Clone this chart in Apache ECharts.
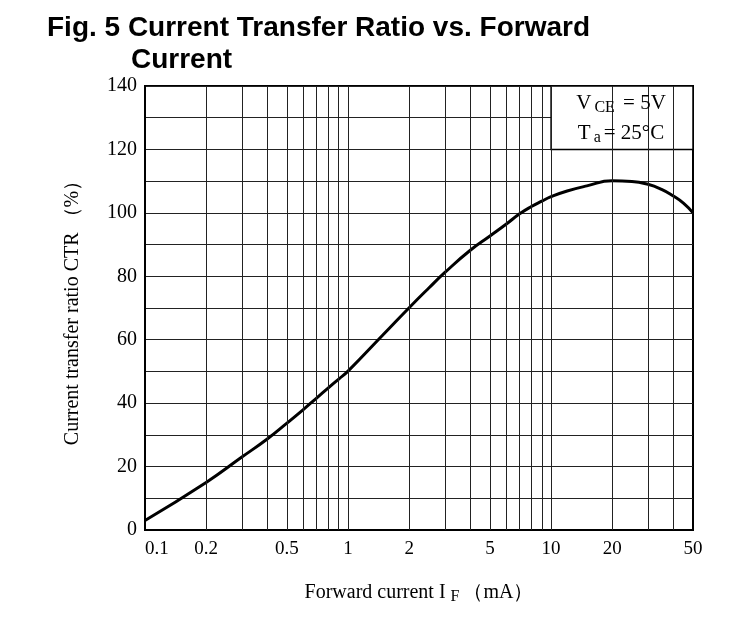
<!DOCTYPE html>
<html>
<head>
<meta charset="utf-8">
<script src="https://cdn.jsdelivr.net/npm/echarts@6/dist/echarts.min.js"></script>
<style>html,body{margin:0;padding:0;background:#fff;}#c{width:755px;height:617px;}</style>
</head>
<body>
<div id="c"></div>
<script>
const currentIF = [0.1,0.2,0.3,0.4,0.5,0.6,0.7,0.8,0.9,1,1.5,2,2.5,3,4,5,6,7,8,9,10,12,15,20,25,30,35,40,45,50];
const ctrValues = [3.0,15.0,23.0,28.7,33.7,37.9,41.6,44.8,47.6,50.1,61.8,70.1,76.3,81.2,88.2,92.7,96.4,99.7,102,103.7,105.1,106.9,108.5,110.1,109.9,109,107.4,105.3,103,100];
const xTickLabels = [0.1,0.2,0.5,1,2,5,10,20,50];
const xGridValues = [0.2,0.3,0.4,0.5,0.6,0.7,0.8,0.9,1,2,3,4,5,6,7,8,9,10,20,30,40];
const yLabelValues = [0,20,40,60,80,100,120,140];

const serif = '"Liberation Serif","Times New Roman",serif';
const sans = '"Liberation Sans",Arial,sans-serif';
const chart = echarts.init(document.getElementById('c'), null, {renderer:'canvas'});
chart.setOption({
  animation:false,
  backgroundColor:'#fff',
  title:[
    {text:'Fig. 5 Current Transfer Ratio vs. Forward', left:47, top:14, padding:0,
     textStyle:{fontFamily:sans, fontWeight:'bold', fontSize:28, color:'#000'}},
    {text:'Current', left:131, top:46, padding:0,
     textStyle:{fontFamily:sans, fontWeight:'bold', fontSize:28, color:'#000'}}
  ],
  grid:{left:145, right:62, top:86, bottom:87, show:true, borderColor:'#000', borderWidth:2, backgroundColor:'transparent'},
  xAxis:{
    type:'log', logBase:10, min:0.1, max:50,
    name:'Forward current I{sub|F}（mA）', nameLocation:'middle', nameGap:50,
    nameTextStyle:{fontFamily:serif, fontSize:20, color:'#000',
      rich:{sub:{fontFamily:serif, fontSize:16, color:'#000', padding:[9,4,0,5]}}},
    axisLine:{show:true, lineStyle:{color:'#000', width:2}},
    axisTick:{show:false},
    splitLine:{show:false},
    axisLabel:{customValues:xTickLabels, fontFamily:serif, fontSize:19, color:'#000', margin:10,
      alignMinLabel:'left',
      formatter:function(v){return String(+v.toPrecision(3));}}
  },
  yAxis:{
    type:'value', min:0, max:140, interval:10,
    name:'Current transfer ratio CTR （%）', nameLocation:'middle', nameGap:62,
    nameTextStyle:{fontFamily:serif, fontSize:20, color:'#000'},
    axisLine:{show:true, lineStyle:{color:'#000', width:2}},
    axisTick:{show:false},
    splitLine:{show:true, lineStyle:{color:'#222', width:1}},
    axisLabel:{fontFamily:serif, fontSize:20, color:'#000', margin:8,
      formatter:function(v){return yLabelValues.indexOf(v)>=0 ? String(v) : '';}}
  },
  series:[
    {type:'line', data:[], z:1, silent:true,
     markLine:{silent:true, symbol:'none', animation:false, label:{show:false},
       lineStyle:{color:'#222', width:1, type:'solid'},
       data:xGridValues.map(v=>({xAxis:v}))}},
    {type:'line', data:currentIF.map((x,i)=>[x,ctrValues[i]]), smooth:0.5, showSymbol:false, z:3,
     lineStyle:{color:'#000', width:3}, silent:true},
    {type:'line', data:[], z:5, silent:true,
     markArea:{silent:true, z:5,
       itemStyle:{color:'#fff', borderColor:'#000', borderWidth:1.5, opacity:1},
       label:{show:true, position:'inside', offset:[-1,1],
         formatter:'{n|V}{s|CE}{n| = 5V}\n{n|T}{s|a}{n|= 25°C}',
         rich:{n:{fontFamily:serif, fontSize:21, color:'#000', lineHeight:30},
               s:{fontFamily:serif, fontSize:16, color:'#000', lineHeight:30, padding:[9,3,0,3]}}},
       data:[[{xAxis:10, yAxis:120},{xAxis:50, yAxis:140}]]}}
  ]
});
</script>
</body>
</html>
